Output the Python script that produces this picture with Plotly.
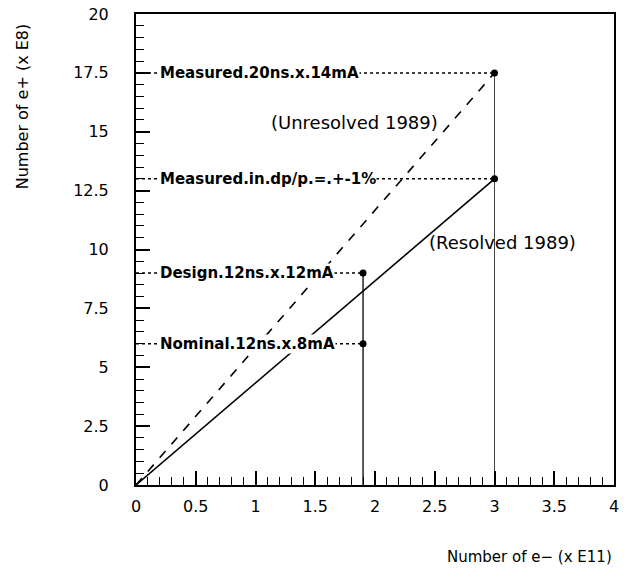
import plotly.graph_objects as go

# Data
electrons = [1.9, 1.9, 3.0, 3.0]            # x (E11)
positrons = [6.0, 9.0, 13.0, 17.5]          # y (E8)
point_labels = ["Nominal.12ns.x.8mA", "Design.12ns.x.12mA",
                "Measured.in.dp/p.=.+-1%", "Measured.20ns.x.14mA"]
resolved_x = [0.0, 3.0]
resolved_y = [0.0, 13.0]
unresolved_x = [0.0, 3.0]
unresolved_y = [0.0, 17.5]
x_ticks = [0, 0.5, 1, 1.5, 2, 2.5, 3, 3.5, 4]
x_tick_text = ["0", "0.5", "1", "1.5", "2", "2.5", "3", "3.5", "4"]
y_ticks = [0, 2.5, 5, 7.5, 10, 12.5, 15, 17.5, 20]
y_tick_text = ["0", "2.5", "5", "7.5", "10", "12.5", "15", "17.5", "20"]

FONT = "DejaVu Sans"
fig = go.Figure()

# Horizontal dotted guide lines from y-axis to each point
for x, y in zip(electrons, positrons):
    fig.add_trace(go.Scatter(x=[0, x], y=[y, y], mode="lines",
                             line=dict(color="black", width=1.5, dash="dot"),
                             showlegend=False, hoverinfo="skip"))

# Vertical lines
fig.add_trace(go.Scatter(x=[electrons[1], electrons[1]], y=[0, positrons[1]], mode="lines",
                         line=dict(color="black", width=1.3), showlegend=False))
fig.add_trace(go.Scatter(x=[electrons[3], electrons[3]], y=[0, positrons[3]], mode="lines",
                         line=dict(color="#444", width=1), showlegend=False))

# Resolved / unresolved lines
fig.add_trace(go.Scatter(x=unresolved_x, y=unresolved_y, mode="lines",
                         line=dict(color="black", width=1.6, dash="dash"), showlegend=False))
fig.add_trace(go.Scatter(x=resolved_x, y=resolved_y, mode="lines",
                         line=dict(color="black", width=1.6), showlegend=False))

# Points
fig.add_trace(go.Scatter(x=electrons, y=positrons, mode="markers",
                         marker=dict(color="black", size=7), showlegend=False))

# Point labels
for y, t in zip(positrons, point_labels):
    fig.add_annotation(x=0.19, y=y, text="<b>" + t + "</b>", showarrow=False, xanchor="left",
                       yanchor="middle", bgcolor="white", borderpad=0,
                       font=dict(family=FONT, size=15, color="black"))

fig.add_annotation(x=1.83, y=15.4, text="(Unresolved 1989)", showarrow=False,
                   font=dict(family=FONT, size=18, color="black"))
fig.add_annotation(x=3.07, y=10.3, text="(Resolved 1989)", showarrow=False,
                   font=dict(family=FONT, size=18, color="black"))

# Axis titles
fig.add_annotation(xref="paper", yref="paper", x=-0.238, y=0.985, text="Number of e+ (x E8)",
                   textangle=-90, showarrow=False, xanchor="center", yanchor="top",
                   font=dict(family=FONT, size=16, color="black"))
fig.add_annotation(xref="paper", yref="paper", x=1.0, y=-0.13, text="Number of e\u2212 (x E11)",
                   showarrow=False, xanchor="right", yanchor="top",
                   font=dict(family=FONT, size=15, color="black"))

fig.update_xaxes(range=[0, 4], tickvals=x_ticks, ticktext=x_tick_text,
                 ticks="inside", ticklen=14, tickwidth=1.5, tickcolor="black",
                 minor=dict(dtick=0.1, ticks="inside", ticklen=8, tickwidth=1.2, tickcolor="black"),
                 showline=True, linecolor="black", linewidth=2, mirror=True,
                 showgrid=False, zeroline=False, automargin=False, ticklabelstandoff=6,
                 ticklabeloverflow="allow",
                 tickfont=dict(family=FONT, size=16, color="black"))
fig.update_yaxes(range=[0, 20], tickvals=y_ticks, ticktext=y_tick_text,
                 ticks="inside", ticklen=14, tickwidth=1.5, tickcolor="black",
                 minor=dict(dtick=0.5, ticks="inside", ticklen=8, tickwidth=1.2, tickcolor="black"),
                 showline=True, linecolor="black", linewidth=2, mirror=True,
                 showgrid=False, zeroline=False, ticklabelstandoff=22, automargin=False,
                 ticklabeloverflow="allow",
                 tickfont=dict(family=FONT, size=16, color="black"))

fig.update_layout(width=628, height=580, plot_bgcolor="white", paper_bgcolor="white",
                  margin=dict(l=136, r=14, t=14, b=95), showlegend=False)

# remove the default page margin so the figure fills the 628x580 window exactly
fig.write_html("out.html", config={"displayModeBar": False},
               post_script="document.body.style.margin='0';")
